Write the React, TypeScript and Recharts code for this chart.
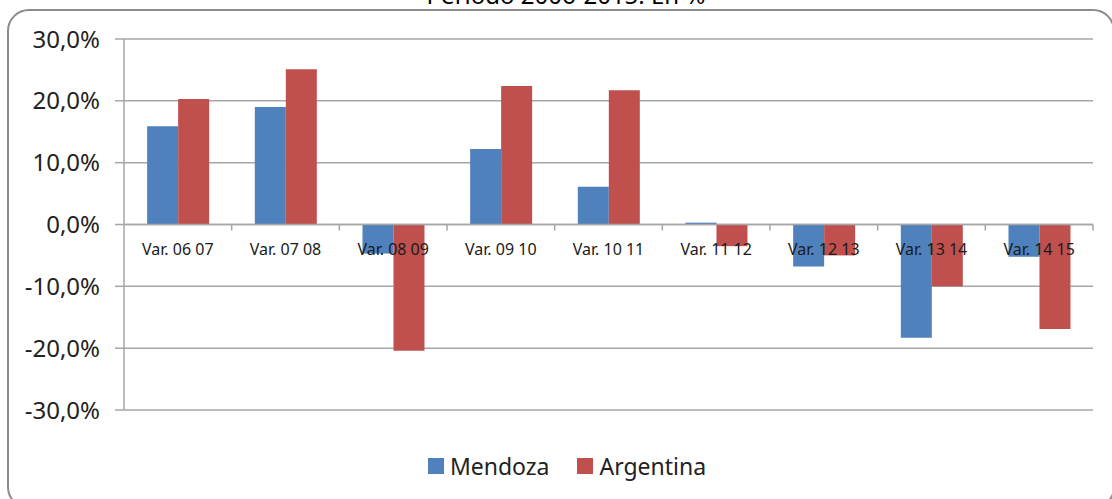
import React from "react";
import {
  BarChart,
  Bar,
  XAxis,
  YAxis,
  CartesianGrid,
  Legend,
  ReferenceLine,
} from "recharts";

const categories = [
  "Var. 06 07",
  "Var. 07 08",
  "Var. 08 09",
  "Var. 09 10",
  "Var. 10 11",
  "Var. 11 12",
  "Var. 12 13",
  "Var. 13 14",
  "Var. 14 15",
];
const mendoza = [15.9, 19.0, -4.7, 12.2, 6.1, 0.3, -6.8, -18.3, -5.2];
const argentina = [20.3, 25.1, -20.4, 22.4, 21.7, -3.5, -5.0, -10.0, -16.9];
const yTicks = [-30, -20, -10, 0, 10, 20, 30];

const data = categories.map((name, i) => ({
  name,
  Mendoza: mendoza[i],
  Argentina: argentina[i],
}));

const W = 1112;
const H = 499;
const X_H = 2;
const M = { top: 39, right: 19, left: 8, bottom: 89 - X_H };
const Y_W = 116;
const PLOT_H = H - M.top - M.bottom - X_H;
const PLOT_W = W - M.left - Y_W - M.right;
const BAND = PLOT_W / categories.length;
const ZERO_Y = M.top + PLOT_H / 2;

const FONT = "'Noto Sans', sans-serif";
const BLUE = "#4f81bd";
const RED = "#c0504d";
const GRID = "#a6a6a6";

const fmt = (v: number) => v.toFixed(1).replace(".", ",") + "%";

// category label sits just under the zero line, tick mark on the category boundary
function CatTick(props: any) {
  const { x, payload } = props;
  return (
    <g>
      <line x1={x + BAND / 2} x2={x + BAND / 2} y1={ZERO_Y} y2={ZERO_Y + 6} stroke={GRID} strokeWidth={1.5} />
      <text x={x} y={ZERO_Y + 30} textAnchor="middle" fontSize={16} fontFamily={FONT} fill="#1a1a1a">
        {payload.value}
      </text>
    </g>
  );
}

function LegendBox() {
  const items = [
    { label: "Mendoza", color: BLUE },
    { label: "Argentina", color: RED },
  ];
  return (
    <div style={{ display: "flex", justifyContent: "center", gap: 28, fontFamily: FONT, fontSize: 23, color: "#222", paddingLeft: 22 }}>
      {items.map((it) => (
        <div key={it.label} style={{ display: "flex", alignItems: "center", gap: 6 }}>
          <span style={{ width: 16, height: 16, background: it.color, display: "inline-block" }} />
          <span>{it.label}</span>
        </div>
      ))}
    </div>
  );
}

export default function App() {
  return (
    <div style={{ position: "fixed", left: 0, top: 0, width: W, height: H, overflow: "hidden", background: "#fff" }}>
      <div
        style={{
          position: "absolute",
          left: 7,
          top: 9,
          width: 1108,
          height: 500,
          border: "2px solid #8c8c8c",
          borderRadius: 22,
          boxSizing: "border-box",
        }}
      />
      <div
        style={{
          position: "absolute",
          left: 0,
          width: W,
          top: -21,
          textAlign: "center",
          fontFamily: FONT,
          fontSize: 24,
          lineHeight: "32px",
          color: "#000",
          paddingLeft: 10,
        }}
      >
        Período 2006-2015. En %
      </div>
      <div style={{ position: "absolute", left: 0, top: 0 }}>
        <BarChart width={W} height={H} data={data} margin={M} barCategoryGap="21.5%" barGap={0}>
          <CartesianGrid vertical={false} stroke={GRID} strokeWidth={1.5} />
          <YAxis
            width={Y_W}
            domain={[-30, 30]}
            ticks={yTicks}
            tickFormatter={fmt}
            tick={{ fontSize: 24, fontFamily: FONT, fill: "#222" }}
            tickSize={9}
            tickMargin={15}
            stroke={GRID}
            strokeWidth={1.5}
            interval={0}
          />
          <Bar dataKey="Mendoza" fill={BLUE} isAnimationActive={false} />
          <Bar dataKey="Argentina" fill={RED} isAnimationActive={false} />
          <ReferenceLine y={0} stroke={GRID} strokeWidth={1.5} />
          <XAxis dataKey="name" height={X_H} axisLine={false} tickLine={false} tick={CatTick} interval={0} />
          <Legend
            verticalAlign="middle"
            layout="horizontal"
            align="center"
            wrapperStyle={{ top: 450, left: 0, width: W }}
            content={<LegendBox />}
          />
        </BarChart>
      </div>
    </div>
  );
}
